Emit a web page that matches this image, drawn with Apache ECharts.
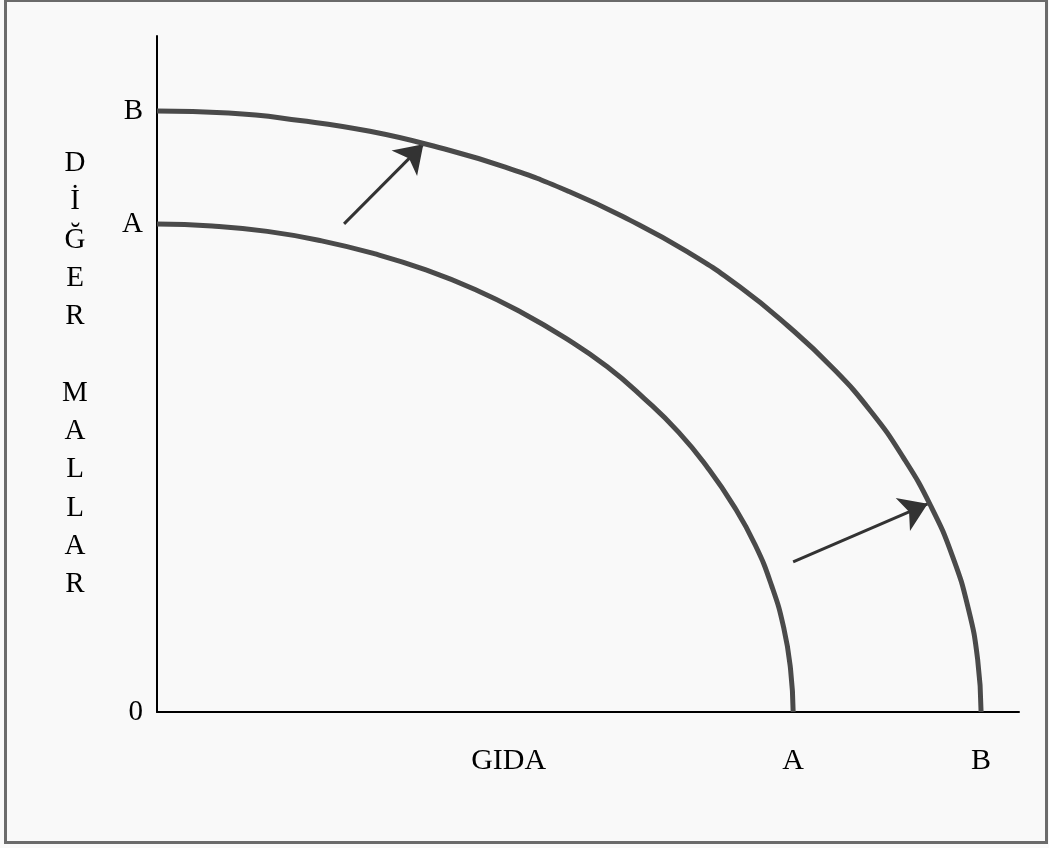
<!DOCTYPE html>
<html>
<head>
<meta charset="utf-8">
<script src="https://cdn.jsdelivr.net/npm/echarts@6/dist/echarts.min.js"></script>
<style>
  html, body { margin: 0; padding: 0; background: #f9f9f9; }
  #main { width: 1049px; height: 848px; }
</style>
</head>
<body>
<div id="main"></div>
<script>
// egriler (x: GIDA, y: DIGER MALLAR), 0-100 olcek
const innerCurve = [
  [0, 72.2], [6.4, 71.9], [12.8, 71.1], [19.1, 69.7], [25.2, 67.8],
  [31.2, 65.4], [36.9, 62.5], [42.3, 59.1], [47.4, 55.3], [52.2, 51.1],
  [56.5, 46.4], [60.5, 41.4], [63.9, 36.1], [66.9, 30.5], [69.4, 24.7],
  [71.3, 18.7], [72.7, 12.5], [73.5, 6.3], [73.8, 0]
];
const outerCurve = [
  [0, 88.9], [8.3, 88.6], [16.6, 87.5], [24.7, 85.9], [32.7, 83.5],
  [40.4, 80.6], [47.8, 77.0], [54.8, 72.8], [61.5, 68.1], [67.6, 62.9],
  [73.2, 57.1], [78.3, 51.0], [82.8, 44.5], [86.6, 37.6], [89.8, 30.4],
  [92.3, 23.0], [94.1, 15.4], [95.2, 7.8], [95.6, 0]
];
// kayma oklari
const arrows = [
  [[21.7, 72.2], [30.9, 84.0]],
  [[73.8, 22.2], [89.4, 30.8]]
];
// eksen etiketleri
const xTickValues = [40.8, 73.8, 95.6];
const xTickLabels = ["GIDA", "A", "B"];
const yTickValues = [0, 72.2, 88.9];
const yTickLabels = ["0", "A", "B"];
const yTitle = ["D", "İ", "Ğ", "E", "R", "", "M", "A", "L", "L", "A", "R"];

const serif = "'Liberation Serif', 'DejaVu Serif', serif";
const myChart = echarts.init(document.getElementById("main"));

const option = {
  backgroundColor: "#f9f9f9",
  animation: false,
  grid: { left: 157, top: 36, right: 30, bottom: 136 },
  xAxis: {
    type: "value",
    min: 0,
    max: 100,
    splitLine: { show: false },
    axisTick: { show: false },
    axisLine: { lineStyle: { color: "#000", width: 2 } },
    axisLabel: {
      customValues: xTickValues,
      formatter: (v) => xTickLabels[xTickValues.indexOf(v)],
      color: "#000",
      fontFamily: serif,
      fontSize: 30,
      margin: 34
    }
  },
  yAxis: {
    type: "value",
    min: 0,
    max: 100,
    splitLine: { show: false },
    axisTick: { show: false },
    axisLine: { show: true, lineStyle: { color: "#000", width: 2 } },
    axisLabel: {
      customValues: yTickValues,
      formatter: (v) => yTickLabels[yTickValues.indexOf(v)],
      color: "#000",
      fontFamily: serif,
      fontSize: 29,
      margin: 14
    },
    name: yTitle.join("\n"),
    nameLocation: "middle",
    nameRotate: 0,
    nameGap: 82,
    nameTextStyle: {
      color: "#000",
      fontFamily: serif,
      fontSize: 29,
      lineHeight: 38.3,
      align: "center",
      verticalAlign: "middle"
    }
  },
  graphic: [
    {
      type: "rect",
      shape: { x: 5.5, y: 0.5, width: 1041, height: 842 },
      style: { fill: "none", stroke: "#6b6b6b", lineWidth: 3 },
      silent: true
    }
  ],
  series: [
    {
      type: "line",
      data: innerCurve,
      smooth: 0.5,
      showSymbol: false,
      lineStyle: { color: "#4a4a4a", width: 5 }
    },
    {
      type: "line",
      data: outerCurve,
      smooth: 0.5,
      showSymbol: false,
      lineStyle: { color: "#4a4a4a", width: 5 }
    },
    {
      type: "lines",
      coordinateSystem: "cartesian2d",
      symbol: ["none", "arrow"],
      symbolSize: 27,
      lineStyle: { color: "#333", width: 3, opacity: 1 },
      data: arrows.map((a) => ({ coords: a }))
    }
  ]
};
myChart.setOption(option);
</script>
</body>
</html>
